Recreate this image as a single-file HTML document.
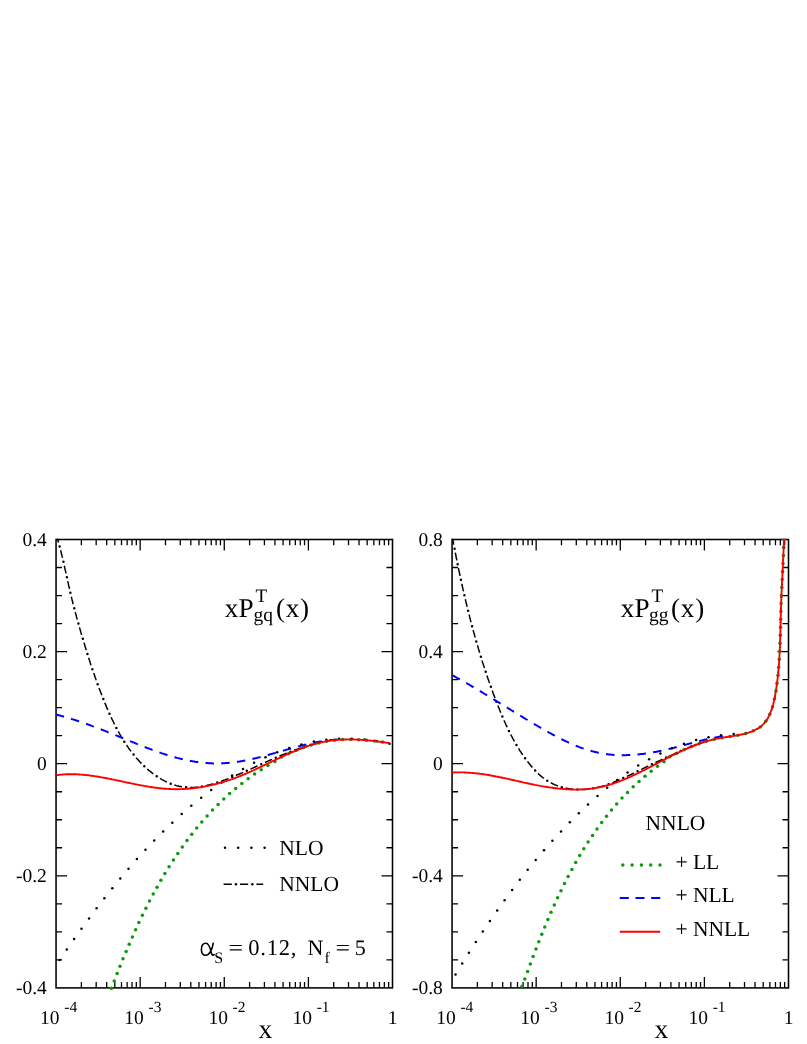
<!DOCTYPE html>
<html><head><meta charset="utf-8"><title>plot</title>
<style>html,body{margin:0;padding:0;background:#fff}svg{display:block;will-change:transform}text{text-rendering:geometricPrecision;font-family:"Liberation Serif",serif;fill:#000}</style></head><body>
<svg width="807" height="1044" viewBox="0 0 807 1044">
<rect width="807" height="1044" fill="#fff"/>
<clipPath id="cL"><rect x="55.25" y="538.7" width="338.05" height="451.4"/></clipPath>
<path d="M81.37,987.9v-5.8M81.37,539.5v5.8M96.18,987.9v-5.8M96.18,539.5v5.8M106.69,987.9v-5.8M106.69,539.5v5.8M114.84,987.9v-5.8M114.84,539.5v5.8M121.50,987.9v-5.8M121.50,539.5v5.8M127.13,987.9v-5.8M127.13,539.5v5.8M132.01,987.9v-5.8M132.01,539.5v5.8M136.31,987.9v-5.8M136.31,539.5v5.8M140.16,987.9v-11M140.16,539.5v11M165.48,987.9v-5.8M165.48,539.5v5.8M180.29,987.9v-5.8M180.29,539.5v5.8M190.80,987.9v-5.8M190.80,539.5v5.8M198.95,987.9v-5.8M198.95,539.5v5.8M205.61,987.9v-5.8M205.61,539.5v5.8M211.25,987.9v-5.8M211.25,539.5v5.8M216.12,987.9v-5.8M216.12,539.5v5.8M220.43,987.9v-5.8M220.43,539.5v5.8M224.27,987.9v-11M224.27,539.5v11M249.60,987.9v-5.8M249.60,539.5v5.8M264.41,987.9v-5.8M264.41,539.5v5.8M274.92,987.9v-5.8M274.92,539.5v5.8M283.07,987.9v-5.8M283.07,539.5v5.8M289.73,987.9v-5.8M289.73,539.5v5.8M295.36,987.9v-5.8M295.36,539.5v5.8M300.24,987.9v-5.8M300.24,539.5v5.8M304.54,987.9v-5.8M304.54,539.5v5.8M308.39,987.9v-11M308.39,539.5v11M333.71,987.9v-5.8M333.71,539.5v5.8M348.52,987.9v-5.8M348.52,539.5v5.8M359.03,987.9v-5.8M359.03,539.5v5.8M367.18,987.9v-5.8M367.18,539.5v5.8M373.84,987.9v-5.8M373.84,539.5v5.8M379.47,987.9v-5.8M379.47,539.5v5.8M384.35,987.9v-5.8M384.35,539.5v5.8M388.65,987.9v-5.8M388.65,539.5v5.8M56.05,959.88h6M392.5,959.88h-6M56.05,931.85h6M392.5,931.85h-6M56.05,903.82h6M392.5,903.82h-6M56.05,875.80h11M392.5,875.80h-11M56.05,847.77h6M392.5,847.77h-6M56.05,819.75h6M392.5,819.75h-6M56.05,791.73h6M392.5,791.73h-6M56.05,763.70h11M392.5,763.70h-11M56.05,735.67h6M392.5,735.67h-6M56.05,707.65h6M392.5,707.65h-6M56.05,679.62h6M392.5,679.62h-6M56.05,651.60h11M392.5,651.60h-11M56.05,623.58h6M392.5,623.58h-6M56.05,595.55h6M392.5,595.55h-6M56.05,567.52h6M392.5,567.52h-6" stroke="#000" stroke-width="1.3" fill="none"/>
<rect x="56.05" y="539.5" width="336.45" height="448.4" fill="none" stroke="#000" stroke-width="1.55"/>
<g clip-path="url(#cL)">
<circle cx="111.4" cy="988.3" r="1.75" fill="#0a9a0a"/><circle cx="114.2" cy="980.9" r="1.75" fill="#0a9a0a"/><circle cx="117.1" cy="973.5" r="1.75" fill="#0a9a0a"/><circle cx="120.0" cy="966.2" r="1.75" fill="#0a9a0a"/><circle cx="123.0" cy="958.8" r="1.75" fill="#0a9a0a"/><circle cx="126.1" cy="951.5" r="1.75" fill="#0a9a0a"/><circle cx="129.2" cy="944.2" r="1.75" fill="#0a9a0a"/><circle cx="132.4" cy="936.9" r="1.75" fill="#0a9a0a"/><circle cx="135.6" cy="929.7" r="1.75" fill="#0a9a0a"/><circle cx="138.9" cy="922.5" r="1.75" fill="#0a9a0a"/><circle cx="142.4" cy="915.3" r="1.75" fill="#0a9a0a"/><circle cx="145.9" cy="908.2" r="1.75" fill="#0a9a0a"/><circle cx="149.5" cy="901.1" r="1.75" fill="#0a9a0a"/><circle cx="153.2" cy="894.1" r="1.75" fill="#0a9a0a"/><circle cx="157.0" cy="887.2" r="1.75" fill="#0a9a0a"/><circle cx="160.9" cy="880.3" r="1.75" fill="#0a9a0a"/><circle cx="164.9" cy="873.4" r="1.75" fill="#0a9a0a"/><circle cx="169.1" cy="866.7" r="1.75" fill="#0a9a0a"/><circle cx="173.4" cy="860.0" r="1.75" fill="#0a9a0a"/><circle cx="177.8" cy="853.4" r="1.75" fill="#0a9a0a"/><circle cx="182.3" cy="846.9" r="1.75" fill="#0a9a0a"/><circle cx="187.0" cy="840.5" r="1.75" fill="#0a9a0a"/><circle cx="191.8" cy="834.2" r="1.75" fill="#0a9a0a"/><circle cx="196.7" cy="828.0" r="1.75" fill="#0a9a0a"/><circle cx="201.8" cy="821.9" r="1.75" fill="#0a9a0a"/><circle cx="207.1" cy="815.9" r="1.75" fill="#0a9a0a"/><circle cx="212.5" cy="810.1" r="1.75" fill="#0a9a0a"/><circle cx="218.1" cy="804.5" r="1.75" fill="#0a9a0a"/><circle cx="223.8" cy="799.0" r="1.75" fill="#0a9a0a"/><circle cx="229.6" cy="793.6" r="1.75" fill="#0a9a0a"/><circle cx="235.7" cy="788.5" r="1.75" fill="#0a9a0a"/><circle cx="241.8" cy="783.5" r="1.75" fill="#0a9a0a"/><circle cx="248.2" cy="778.7" r="1.75" fill="#0a9a0a"/><circle cx="254.6" cy="774.1" r="1.75" fill="#0a9a0a"/><circle cx="261.2" cy="769.7" r="1.75" fill="#0a9a0a"/><circle cx="268.0" cy="765.5" r="1.75" fill="#0a9a0a"/><circle cx="274.9" cy="761.6" r="1.75" fill="#0a9a0a"/><circle cx="281.5" cy="757.0" r="1.75" fill="#0a9a0a"/><circle cx="288.8" cy="753.6" r="1.75" fill="#0a9a0a"/><circle cx="296.1" cy="750.5" r="1.75" fill="#0a9a0a"/><circle cx="303.6" cy="747.6" r="1.75" fill="#0a9a0a"/><circle cx="311.2" cy="745.1" r="1.75" fill="#0a9a0a"/><circle cx="318.9" cy="742.9" r="1.75" fill="#0a9a0a"/><circle cx="326.7" cy="741.3" r="1.75" fill="#0a9a0a"/><circle cx="334.6" cy="740.2" r="1.75" fill="#0a9a0a"/><circle cx="342.6" cy="739.6" r="1.75" fill="#0a9a0a"/><circle cx="350.6" cy="739.4" r="1.75" fill="#0a9a0a"/><circle cx="358.6" cy="739.7" r="1.75" fill="#0a9a0a"/><circle cx="366.6" cy="740.3" r="1.75" fill="#0a9a0a"/><circle cx="374.5" cy="741.1" r="1.75" fill="#0a9a0a"/><circle cx="382.5" cy="742.1" r="1.75" fill="#0a9a0a"/>
<path d="M56.7,535.7 L57.0,536.8 L57.3,537.9 L57.6,539.0 L57.9,540.1 L58.2,541.2 L58.5,542.3 L58.8,543.4 L59.1,544.5 L59.4,545.5 L59.7,546.6 L60.0,547.7 L60.2,548.8 L60.5,549.9 L60.8,551.0 L61.1,552.1 L61.3,553.1 L61.6,554.2 L61.9,555.3 L62.1,556.4 L62.4,557.4 L62.6,558.5 L62.9,559.6 L63.1,560.7 L63.4,561.7 L63.6,562.8 L63.9,563.9 L64.1,565.0 L64.4,566.0 L64.6,567.1 L64.8,568.2 L65.1,569.2 L65.3,570.3 L65.6,571.4 L65.8,572.4 L66.0,573.5 L66.3,574.6 L66.5,575.6 L66.7,576.7 L67.0,577.8 L67.2,578.8 L67.4,579.9 L67.7,580.9 L67.9,582.0 L68.2,583.1 L68.4,584.1 L68.6,585.2 L68.9,586.2 L69.1,587.3 L69.4,588.4 L69.6,589.4 L69.8,590.5 L70.1,591.5 L70.3,592.6 L70.6,593.7 L70.8,594.7 L71.1,595.8 L71.4,596.8 L71.6,597.9 L71.9,598.9 L72.1,600.0 L72.4,601.0 L72.7,602.1 L72.9,603.2 L73.2,604.2 L73.5,605.3 L73.7,606.3 L74.0,607.4 L74.3,608.4 L74.6,609.5 L74.8,610.5 L75.1,611.6 L75.4,612.6 L75.7,613.7 L76.0,614.7 L76.3,615.8 L76.5,616.9 L76.8,617.9 L77.1,619.0 L77.4,620.0 L77.7,621.1 L78.0,622.1 L78.3,623.2 L78.6,624.2 L78.9,625.3 L79.2,626.4 L79.5,627.4 L79.8,628.5 L80.1,629.5 L80.4,630.6 L80.7,631.6 L81.0,632.7 L81.3,633.7 L81.6,634.8 L81.9,635.9 L82.3,636.9 L82.6,638.0 L82.9,639.0 L83.2,640.1 L83.5,641.2 L83.8,642.2 L84.2,643.3 L84.5,644.3 L84.8,645.4 L85.1,646.5 L85.5,647.5 L85.8,648.6 L86.1,649.7 L86.4,650.7 L86.8,651.8 L87.1,652.8 L87.4,653.9 L87.8,655.0 L88.1,656.0 L88.4,657.1 L88.8,658.2 L89.1,659.2 L89.5,660.3 L89.8,661.3 L90.2,662.4 L90.5,663.5 L90.8,664.5 L91.2,665.6 L91.5,666.6 L91.9,667.7 L92.3,668.7 L92.6,669.8 L93.0,670.9 L93.3,671.9 L93.7,673.0 L94.1,674.0 L94.4,675.1 L94.8,676.1 L95.1,677.2 L95.5,678.2 L95.9,679.3 L96.3,680.3 L96.6,681.4 L97.0,682.4 L97.4,683.5 L97.8,684.5 L98.2,685.6 L98.5,686.6 L98.9,687.6 L99.3,688.7 L99.7,689.7 L100.1,690.7 L100.5,691.8 L100.9,692.8 L101.3,693.8 L101.7,694.9 L102.1,695.9 L102.5,696.9 L102.9,698.0 L103.3,699.0 L103.7,700.0 L104.1,701.0 L104.5,702.0 L104.9,703.1 L105.4,704.1 L105.8,705.1 L106.2,706.1 L106.6,707.1 L107.1,708.1 L107.5,709.1 L107.9,710.1 L108.4,711.1 L108.8,712.1 L109.2,713.1 L109.7,714.1 L110.1,715.1 L110.6,716.1 L111.0,717.1 L111.5,718.1 L112.0,719.1 L112.4,720.0 L112.9,721.0 L113.4,722.0 L113.9,723.0 L114.3,723.9 L114.8,724.9 L115.3,725.9 L115.8,726.8 L116.3,727.8 L116.8,728.7 L117.3,729.7 L117.8,730.6 L118.4,731.6 L118.9,732.5 L119.4,733.5 L119.9,734.4 L120.5,735.4 L121.0,736.3 L121.6,737.2 L122.1,738.1 L122.7,739.1 L123.3,740.0 L123.8,740.9 L124.4,741.8 L125.0,742.7 L125.6,743.6 L126.2,744.5 L126.8,745.4 L127.4,746.3 L128.0,747.2 L128.6,748.1 L129.3,749.0 L129.9,749.9 L130.6,750.8 L131.2,751.6 L131.9,752.5 L132.6,753.4 L133.3,754.2 L134.0,755.1 L134.7,755.9 L135.4,756.8 L136.1,757.6 L136.8,758.5 L137.6,759.3 L138.3,760.1 L139.1,761.0 L139.8,761.8 L140.6,762.6 L141.4,763.4 L142.2,764.2 L143.0,765.0 L143.8,765.8 L144.6,766.6 L145.5,767.3 L146.3,768.1 L147.1,768.8 L148.0,769.6 L148.8,770.3 L149.7,771.0 L150.6,771.7 L151.5,772.4 L152.3,773.1 L153.2,773.8 L154.1,774.4 L155.0,775.1 L156.0,775.7 L156.9,776.3 L157.8,777.0 L158.7,777.6 L159.7,778.1 L160.6,778.7 L161.6,779.3 L162.5,779.8 L163.5,780.3 L164.4,780.8 L165.4,781.3 L166.4,781.8 L167.4,782.3 L168.4,782.7 L169.4,783.1 L170.4,783.5 L171.4,783.9 L172.4,784.3 L173.4,784.6 L174.4,785.0 L175.4,785.3 L176.4,785.6 L177.5,785.9 L178.5,786.1 L179.5,786.4 L180.6,786.6 L181.6,786.8 L182.7,786.9 L183.7,787.1 L184.8,787.2 L185.8,787.3 L186.9,787.4 L188.0,787.4 L189.0,787.5 L190.1,787.5 L191.2,787.5 L192.3,787.5 L193.3,787.4 L194.4,787.4 L195.5,787.3 L196.6,787.2 L197.6,787.1 L198.7,786.9 L199.8,786.8 L200.9,786.6 L202.0,786.4 L203.1,786.3 L204.2,786.0 L205.3,785.8 L206.4,785.6 L207.4,785.3 L208.5,785.1 L209.6,784.8 L210.7,784.5 L211.8,784.2 L212.9,783.9 L214.0,783.6 L215.1,783.2 L216.1,782.9 L217.2,782.6 L218.3,782.2 L219.4,781.8 L220.5,781.5 L221.5,781.1 L222.6,780.7 L223.7,780.3 L224.8,779.9 L225.8,779.5 L226.9,779.1 L228.0,778.7 L229.0,778.3 L230.1,777.8 L231.1,777.4 L232.2,777.0 L233.2,776.6 L234.3,776.1 L235.3,775.7 L236.3,775.3 L237.4,774.8 L238.4,774.4 L239.4,774.0 L240.5,773.5 L241.5,773.1 L242.5,772.6 L243.5,772.2 L244.5,771.7 L245.5,771.3 L246.5,770.8 L247.6,770.4 L248.6,769.9 L249.6,769.5 L250.6,769.0 L251.6,768.6 L252.6,768.1 L253.6,767.7 L254.6,767.2 L255.6,766.8 L256.5,766.3 L257.5,765.9 L258.5,765.4 L259.5,765.0 L260.5,764.5 L261.5,764.1 L262.5,763.6 L263.5,763.2 L264.5,762.7 L265.5,762.3 L266.4,761.8 L267.4,761.4 L268.4,760.9 L269.4,760.5 L270.4,760.0 L271.4,759.6 L272.4,759.2 L273.4,758.7 L274.3,758.3 L275.3,757.9 L276.3,757.4 L277.3,757.0 L278.3,756.6 L279.3,756.2 L280.3,755.7 L281.3,755.3 L282.3,754.9 L283.3,754.5 L284.3,754.1 L285.3,753.7 L286.3,753.3 L287.3,752.9 L288.3,752.5 L289.3,752.1 L290.4,751.7 L291.4,751.3 L292.4,750.9 L293.4,750.6 L294.4,750.2 L295.5,749.8 L296.5,749.4 L297.5,749.1 L298.6,748.7 L299.6,748.4 L300.7,748.0 L301.7,747.7 L302.8,747.3 L303.8,747.0 L304.9,746.7 L305.9,746.3 L307.0,746.0 L308.1,745.7 L309.1,745.4 L310.2,745.1 L311.3,744.8 L312.4,744.5 L313.5,744.2 L314.6,743.9 L315.7,743.7 L316.8,743.4 L317.9,743.1 L319.0,742.9 L320.1,742.6" fill="none" stroke="#000" stroke-width="1.5" stroke-dasharray="7.8 8.1" stroke-dashoffset="0.8"/>
<path d="M56.7,535.7 L57.0,536.8 L57.3,537.9 L57.6,539.0 L57.9,540.1 L58.2,541.2 L58.5,542.3 L58.8,543.4 L59.1,544.5 L59.4,545.5 L59.7,546.6 L60.0,547.7 L60.2,548.8 L60.5,549.9 L60.8,551.0 L61.1,552.1 L61.3,553.1 L61.6,554.2 L61.9,555.3 L62.1,556.4 L62.4,557.4 L62.6,558.5 L62.9,559.6 L63.1,560.7 L63.4,561.7 L63.6,562.8 L63.9,563.9 L64.1,565.0 L64.4,566.0 L64.6,567.1 L64.8,568.2 L65.1,569.2 L65.3,570.3 L65.6,571.4 L65.8,572.4 L66.0,573.5 L66.3,574.6 L66.5,575.6 L66.7,576.7 L67.0,577.8 L67.2,578.8 L67.4,579.9 L67.7,580.9 L67.9,582.0 L68.2,583.1 L68.4,584.1 L68.6,585.2 L68.9,586.2 L69.1,587.3 L69.4,588.4 L69.6,589.4 L69.8,590.5 L70.1,591.5 L70.3,592.6 L70.6,593.7 L70.8,594.7 L71.1,595.8 L71.4,596.8 L71.6,597.9 L71.9,598.9 L72.1,600.0 L72.4,601.0 L72.7,602.1 L72.9,603.2 L73.2,604.2 L73.5,605.3 L73.7,606.3 L74.0,607.4 L74.3,608.4 L74.6,609.5 L74.8,610.5 L75.1,611.6 L75.4,612.6 L75.7,613.7 L76.0,614.7 L76.3,615.8 L76.5,616.9 L76.8,617.9 L77.1,619.0 L77.4,620.0 L77.7,621.1 L78.0,622.1 L78.3,623.2 L78.6,624.2 L78.9,625.3 L79.2,626.4 L79.5,627.4 L79.8,628.5 L80.1,629.5 L80.4,630.6 L80.7,631.6 L81.0,632.7 L81.3,633.7 L81.6,634.8 L81.9,635.9 L82.3,636.9 L82.6,638.0 L82.9,639.0 L83.2,640.1 L83.5,641.2 L83.8,642.2 L84.2,643.3 L84.5,644.3 L84.8,645.4 L85.1,646.5 L85.5,647.5 L85.8,648.6 L86.1,649.7 L86.4,650.7 L86.8,651.8 L87.1,652.8 L87.4,653.9 L87.8,655.0 L88.1,656.0 L88.4,657.1 L88.8,658.2 L89.1,659.2 L89.5,660.3 L89.8,661.3 L90.2,662.4 L90.5,663.5 L90.8,664.5 L91.2,665.6 L91.5,666.6 L91.9,667.7 L92.3,668.7 L92.6,669.8 L93.0,670.9 L93.3,671.9 L93.7,673.0 L94.1,674.0 L94.4,675.1 L94.8,676.1 L95.1,677.2 L95.5,678.2 L95.9,679.3 L96.3,680.3 L96.6,681.4 L97.0,682.4 L97.4,683.5 L97.8,684.5 L98.2,685.6 L98.5,686.6 L98.9,687.6 L99.3,688.7 L99.7,689.7 L100.1,690.7 L100.5,691.8 L100.9,692.8 L101.3,693.8 L101.7,694.9 L102.1,695.9 L102.5,696.9 L102.9,698.0 L103.3,699.0 L103.7,700.0 L104.1,701.0 L104.5,702.0 L104.9,703.1 L105.4,704.1 L105.8,705.1 L106.2,706.1 L106.6,707.1 L107.1,708.1 L107.5,709.1 L107.9,710.1 L108.4,711.1 L108.8,712.1 L109.2,713.1 L109.7,714.1 L110.1,715.1 L110.6,716.1 L111.0,717.1 L111.5,718.1 L112.0,719.1 L112.4,720.0 L112.9,721.0 L113.4,722.0 L113.9,723.0 L114.3,723.9 L114.8,724.9 L115.3,725.9 L115.8,726.8 L116.3,727.8 L116.8,728.7 L117.3,729.7 L117.8,730.6 L118.4,731.6 L118.9,732.5 L119.4,733.5 L119.9,734.4 L120.5,735.4 L121.0,736.3 L121.6,737.2 L122.1,738.1 L122.7,739.1 L123.3,740.0 L123.8,740.9 L124.4,741.8 L125.0,742.7 L125.6,743.6 L126.2,744.5 L126.8,745.4 L127.4,746.3 L128.0,747.2 L128.6,748.1 L129.3,749.0 L129.9,749.9 L130.6,750.8 L131.2,751.6 L131.9,752.5 L132.6,753.4 L133.3,754.2 L134.0,755.1 L134.7,755.9 L135.4,756.8 L136.1,757.6 L136.8,758.5 L137.6,759.3 L138.3,760.1 L139.1,761.0 L139.8,761.8 L140.6,762.6 L141.4,763.4 L142.2,764.2 L143.0,765.0 L143.8,765.8 L144.6,766.6 L145.5,767.3 L146.3,768.1 L147.1,768.8 L148.0,769.6 L148.8,770.3 L149.7,771.0 L150.6,771.7 L151.5,772.4 L152.3,773.1 L153.2,773.8 L154.1,774.4 L155.0,775.1 L156.0,775.7 L156.9,776.3 L157.8,777.0 L158.7,777.6 L159.7,778.1 L160.6,778.7 L161.6,779.3 L162.5,779.8 L163.5,780.3 L164.4,780.8 L165.4,781.3 L166.4,781.8 L167.4,782.3 L168.4,782.7 L169.4,783.1 L170.4,783.5 L171.4,783.9 L172.4,784.3 L173.4,784.6 L174.4,785.0 L175.4,785.3 L176.4,785.6 L177.5,785.9 L178.5,786.1 L179.5,786.4 L180.6,786.6 L181.6,786.8 L182.7,786.9 L183.7,787.1 L184.8,787.2 L185.8,787.3 L186.9,787.4 L188.0,787.4 L189.0,787.5 L190.1,787.5 L191.2,787.5 L192.3,787.5 L193.3,787.4 L194.4,787.4 L195.5,787.3 L196.6,787.2 L197.6,787.1 L198.7,786.9 L199.8,786.8 L200.9,786.6 L202.0,786.4 L203.1,786.3 L204.2,786.0 L205.3,785.8 L206.4,785.6 L207.4,785.3 L208.5,785.1 L209.6,784.8 L210.7,784.5 L211.8,784.2 L212.9,783.9 L214.0,783.6 L215.1,783.2 L216.1,782.9 L217.2,782.6 L218.3,782.2 L219.4,781.8 L220.5,781.5 L221.5,781.1 L222.6,780.7 L223.7,780.3 L224.8,779.9 L225.8,779.5 L226.9,779.1 L228.0,778.7 L229.0,778.3 L230.1,777.8 L231.1,777.4 L232.2,777.0 L233.2,776.6 L234.3,776.1 L235.3,775.7 L236.3,775.3 L237.4,774.8 L238.4,774.4 L239.4,774.0 L240.5,773.5 L241.5,773.1 L242.5,772.6 L243.5,772.2 L244.5,771.7 L245.5,771.3 L246.5,770.8 L247.6,770.4 L248.6,769.9 L249.6,769.5 L250.6,769.0 L251.6,768.6 L252.6,768.1 L253.6,767.7 L254.6,767.2 L255.6,766.8 L256.5,766.3 L257.5,765.9 L258.5,765.4 L259.5,765.0 L260.5,764.5 L261.5,764.1 L262.5,763.6 L263.5,763.2 L264.5,762.7 L265.5,762.3 L266.4,761.8 L267.4,761.4 L268.4,760.9 L269.4,760.5 L270.4,760.0 L271.4,759.6 L272.4,759.2 L273.4,758.7 L274.3,758.3 L275.3,757.9 L276.3,757.4 L277.3,757.0 L278.3,756.6 L279.3,756.2 L280.3,755.7 L281.3,755.3 L282.3,754.9 L283.3,754.5 L284.3,754.1 L285.3,753.7 L286.3,753.3 L287.3,752.9 L288.3,752.5 L289.3,752.1 L290.4,751.7 L291.4,751.3 L292.4,750.9 L293.4,750.6 L294.4,750.2 L295.5,749.8 L296.5,749.4 L297.5,749.1 L298.6,748.7 L299.6,748.4 L300.7,748.0 L301.7,747.7 L302.8,747.3 L303.8,747.0 L304.9,746.7 L305.9,746.3 L307.0,746.0 L308.1,745.7 L309.1,745.4 L310.2,745.1 L311.3,744.8 L312.4,744.5 L313.5,744.2 L314.6,743.9 L315.7,743.7 L316.8,743.4 L317.9,743.1 L319.0,742.9 L320.1,742.6" fill="none" stroke="#000" stroke-width="2.5" stroke-linecap="round" stroke-dasharray="0 15.9" stroke-dashoffset="-11.1"/>
<path d="M56.4,714.6 L57.1,714.8 L57.8,715.0 L58.4,715.2 L59.1,715.3 L59.8,715.5 L60.5,715.7 L61.2,715.9 L61.9,716.1 L62.6,716.3 L63.3,716.5 L64.0,716.7 L64.7,716.9 L65.4,717.1 L66.1,717.3 L66.8,717.5 L67.5,717.7 L68.2,717.9 L68.9,718.1 L69.6,718.3 L70.2,718.5 L70.9,718.7 L71.6,719.0 L72.3,719.2 L73.0,719.4 L73.7,719.6 L74.4,719.8 L75.1,720.1 L75.8,720.3 L76.5,720.5 L77.2,720.7 L77.9,721.0 L78.6,721.2 L79.3,721.4 L80.0,721.7 L80.6,721.9 L81.3,722.1 L82.0,722.4 L82.7,722.6 L83.4,722.9 L84.1,723.1 L84.8,723.4 L85.5,723.6 L86.2,723.8 L86.9,724.1 L87.6,724.3 L88.3,724.6 L89.0,724.8 L89.6,725.1 L90.3,725.3 L91.0,725.6 L91.7,725.9 L92.4,726.1 L93.1,726.4 L93.8,726.6 L94.5,726.9 L95.2,727.1 L95.9,727.4 L96.6,727.7 L97.3,727.9 L98.0,728.2 L98.6,728.5 L99.3,728.7 L100.0,729.0 L100.7,729.3 L101.4,729.5 L102.1,729.8 L102.8,730.1 L103.5,730.3 L104.2,730.6 L104.9,730.9 L105.6,731.2 L106.3,731.4 L107.0,731.7 L107.6,732.0 L108.3,732.3 L109.0,732.5 L109.7,732.8 L110.4,733.1 L111.1,733.4 L111.8,733.6 L112.5,733.9 L113.2,734.2 L113.9,734.5 L114.6,734.8 L115.3,735.0 L116.0,735.3 L116.7,735.6 L117.4,735.9 L118.1,736.2 L118.7,736.5 L119.4,736.7 L120.1,737.0 L120.8,737.3 L121.5,737.6 L122.2,737.9 L122.9,738.2 L123.6,738.5 L124.3,738.7 L125.0,739.0 L125.7,739.3 L126.4,739.6 L127.1,739.9 L127.8,740.2 L128.5,740.5 L129.2,740.7 L129.9,741.0 L130.6,741.3 L131.3,741.6 L132.0,741.9 L132.7,742.2 L133.4,742.4 L134.1,742.7 L134.8,743.0 L135.5,743.3 L136.2,743.6 L136.9,743.9 L137.5,744.1 L138.2,744.4 L138.9,744.7 L139.6,745.0 L140.3,745.3 L141.0,745.5 L141.7,745.8 L142.4,746.1 L143.1,746.4 L143.8,746.7 L144.5,746.9 L145.2,747.2 L145.9,747.5 L146.6,747.7 L147.3,748.0 L148.1,748.3 L148.8,748.6 L149.5,748.8 L150.2,749.1 L150.9,749.3 L151.6,749.6 L152.3,749.9 L153.0,750.1 L153.7,750.4 L154.4,750.6 L155.1,750.9 L155.8,751.2 L156.5,751.4 L157.2,751.7 L157.9,751.9 L158.6,752.2 L159.3,752.4 L160.0,752.6 L160.7,752.9 L161.4,753.1 L162.1,753.4 L162.8,753.6 L163.5,753.8 L164.3,754.1 L165.0,754.3 L165.7,754.5 L166.4,754.8 L167.1,755.0 L167.8,755.2 L168.5,755.4 L169.2,755.6 L169.9,755.9 L170.6,756.1 L171.3,756.3 L172.1,756.5 L172.8,756.7 L173.5,756.9 L174.2,757.1 L174.9,757.3 L175.6,757.5 L176.3,757.7 L177.0,757.9 L177.8,758.1 L178.5,758.2 L179.2,758.4 L179.9,758.6 L180.6,758.8 L181.3,759.0 L182.0,759.1 L182.8,759.3 L183.5,759.5 L184.2,759.6 L184.9,759.8 L185.6,759.9 L186.3,760.1 L187.1,760.2 L187.8,760.4 L188.5,760.5 L189.2,760.7 L189.9,760.8 L190.6,760.9 L191.4,761.1 L192.1,761.2 L192.8,761.3 L193.5,761.4 L194.2,761.6 L195.0,761.7 L195.7,761.8 L196.4,761.9 L197.1,762.0 L197.8,762.1 L198.6,762.2 L199.3,762.3 L200.0,762.4 L200.7,762.5 L201.5,762.6 L202.2,762.6 L202.9,762.7 L203.6,762.8 L204.3,762.8 L205.1,762.9 L205.8,763.0 L206.5,763.0 L207.2,763.1 L208.0,763.1 L208.7,763.2 L209.4,763.2 L210.1,763.3 L210.8,763.3 L211.6,763.3 L212.3,763.4 L213.0,763.4 L213.7,763.4 L214.5,763.4 L215.2,763.4 L215.9,763.4 L216.6,763.4 L217.4,763.4 L218.1,763.4 L218.8,763.4 L219.5,763.4 L220.3,763.4 L221.0,763.3 L221.7,763.3 L222.4,763.3 L223.2,763.3 L223.9,763.2 L224.6,763.2 L225.3,763.1 L226.1,763.1 L226.8,763.0 L227.5,763.0 L228.2,762.9 L229.0,762.8 L229.7,762.8 L230.4,762.7 L231.2,762.6 L231.9,762.6 L232.6,762.5 L233.3,762.4 L234.1,762.3 L234.8,762.2 L235.5,762.1 L236.2,762.0 L237.0,761.9 L237.7,761.8 L238.4,761.7 L239.1,761.6 L239.9,761.4 L240.6,761.3 L241.3,761.2 L242.0,761.1 L242.8,760.9 L243.5,760.8 L244.2,760.7 L245.0,760.5 L245.7,760.4 L246.4,760.3 L247.1,760.1 L247.9,760.0 L248.6,759.8 L249.3,759.6 L250.0,759.5 L250.8,759.3 L251.5,759.2 L252.2,759.0 L252.9,758.8 L253.7,758.7 L254.4,758.5 L255.1,758.3 L255.8,758.2 L256.6,758.0 L257.3,757.8 L258.0,757.6 L258.7,757.4 L259.5,757.3 L260.2,757.1 L260.9,756.9 L261.6,756.7 L262.4,756.5 L263.1,756.3 L263.8,756.1 L264.5,755.9 L265.3,755.7 L266.0,755.5 L266.7,755.3 L267.4,755.1 L268.2,755.0 L268.9,754.8 L269.6,754.5 L270.3,754.3 L271.1,754.1 L271.8,753.9 L272.5,753.7 L273.2,753.5 L274.0,753.3 L274.7,753.1 L275.4,752.9 L276.1,752.7 L276.9,752.5 L277.6,752.3 L278.3,752.1 L279.0,751.9 L279.8,751.7 L280.5,751.5 L281.2,751.3 L281.9,751.0 L282.7,750.8 L283.4,750.6 L284.1,750.4 L284.8,750.2 L285.6,750.0 L286.3,749.8 L287.0,749.6 L287.7,749.4 L288.4,749.2 L289.2,749.0 L289.9,748.8 L290.6,748.6 L291.3,748.4 L292.1,748.2 L292.8,748.0 L293.5,747.8 L294.2,747.6 L294.9,747.4 L295.7,747.2 L296.4,747.0 L297.1,746.8 L297.8,746.6 L298.6,746.4 L299.3,746.2 L300.0,746.0 L300.7,745.8 L301.4,745.6 L302.2,745.5 L302.9,745.3 L303.6,745.1 L304.3,744.9 L305.0,744.7 L305.8,744.6 L306.5,744.4 L307.2,744.2 L307.9,744.1 L308.6,743.9 L309.4,743.7 L310.1,743.6 L310.8,743.4 L311.5,743.2 L312.2,743.1 L313.0,742.9 L313.7,742.8 L314.4,742.6 L315.1,742.5 L315.8,742.3 L316.5,742.2 L317.3,742.1 L318.0,741.9 L318.7,741.8 L319.4,741.7 L320.1,741.5 L320.9,741.4 L321.6,741.3 L322.3,741.2 L323.0,741.1 L323.7,741.0 L324.4,740.9 L325.2,740.8 L325.9,740.7 L326.6,740.6 L327.3,740.5 L328.0,740.4 L328.7,740.3 L329.5,740.2 L330.2,740.1 L330.9,740.1 L331.6,740.0 L332.3,739.9 L333.0,739.9 L333.8,739.8 L334.5,739.7 L335.2,739.7 L335.9,739.6 L336.6,739.6 L337.3,739.6 L338.0,739.5 L338.8,739.5 L339.5,739.5 L340.2,739.5" fill="none" stroke="#0000ff" stroke-width="2" stroke-dasharray="8.5 7.3" stroke-dashoffset="0.6"/>
<circle cx="59.6" cy="960.0" r="1.25" fill="#000"/><circle cx="66.8" cy="949.5" r="1.25" fill="#000"/><circle cx="74.1" cy="939.1" r="1.25" fill="#000"/><circle cx="81.5" cy="928.7" r="1.25" fill="#000"/><circle cx="89.0" cy="918.5" r="1.25" fill="#000"/><circle cx="96.6" cy="908.3" r="1.25" fill="#000"/><circle cx="104.4" cy="898.2" r="1.25" fill="#000"/><circle cx="112.3" cy="888.2" r="1.25" fill="#000"/><circle cx="120.3" cy="878.4" r="1.25" fill="#000"/><circle cx="128.5" cy="868.7" r="1.25" fill="#000"/><circle cx="136.9" cy="859.1" r="1.25" fill="#000"/><circle cx="145.5" cy="849.7" r="1.25" fill="#000"/><circle cx="154.2" cy="840.5" r="1.25" fill="#000"/><circle cx="163.2" cy="831.5" r="1.25" fill="#000"/><circle cx="172.3" cy="822.7" r="1.25" fill="#000"/><circle cx="181.7" cy="814.1" r="1.25" fill="#000"/><circle cx="191.3" cy="805.8" r="1.25" fill="#000"/><circle cx="201.2" cy="797.7" r="1.25" fill="#000"/><circle cx="211.2" cy="790.0" r="1.25" fill="#000"/><circle cx="221.6" cy="782.6" r="1.25" fill="#000"/><circle cx="232.1" cy="775.5" r="1.25" fill="#000"/><circle cx="243.0" cy="768.9" r="1.25" fill="#000"/><circle cx="254.1" cy="762.8" r="1.25" fill="#000"/><circle cx="265.5" cy="757.2" r="1.25" fill="#000"/><circle cx="277.2" cy="752.2" r="1.25" fill="#000"/><circle cx="289.2" cy="747.9" r="1.25" fill="#000"/><circle cx="301.4" cy="744.4" r="1.25" fill="#000"/><circle cx="313.8" cy="741.6" r="1.25" fill="#000"/><circle cx="326.4" cy="739.8" r="1.25" fill="#000"/><circle cx="339.1" cy="738.8" r="1.25" fill="#000"/><circle cx="351.8" cy="738.7" r="1.25" fill="#000"/><circle cx="364.5" cy="739.5" r="1.25" fill="#000"/><circle cx="377.0" cy="741.2" r="1.25" fill="#000"/><circle cx="389.5" cy="743.8" r="1.25" fill="#000"/>
<path d="M56.4,775.2 L57.3,775.1 L58.1,775.0 L58.9,774.9 L59.8,774.8 L60.6,774.7 L61.4,774.6 L62.3,774.5 L63.1,774.5 L63.9,774.4 L64.8,774.4 L65.6,774.3 L66.5,774.3 L67.3,774.3 L68.1,774.2 L69.0,774.2 L69.8,774.2 L70.7,774.2 L71.5,774.2 L72.4,774.2 L73.2,774.2 L74.0,774.2 L74.9,774.3 L75.7,774.3 L76.6,774.3 L77.4,774.4 L78.3,774.4 L79.1,774.5 L80.0,774.5 L80.8,774.6 L81.7,774.6 L82.5,774.7 L83.3,774.8 L84.2,774.9 L85.0,775.0 L85.9,775.0 L86.7,775.1 L87.6,775.2 L88.4,775.3 L89.3,775.4 L90.1,775.5 L91.0,775.7 L91.8,775.8 L92.7,775.9 L93.5,776.0 L94.4,776.1 L95.3,776.3 L96.1,776.4 L97.0,776.5 L97.8,776.7 L98.7,776.8 L99.5,777.0 L100.4,777.1 L101.2,777.3 L102.1,777.4 L102.9,777.6 L103.8,777.7 L104.6,777.9 L105.5,778.0 L106.4,778.2 L107.2,778.4 L108.1,778.5 L108.9,778.7 L109.8,778.9 L110.6,779.0 L111.5,779.2 L112.3,779.4 L113.2,779.6 L114.1,779.7 L114.9,779.9 L115.8,780.1 L116.6,780.3 L117.5,780.5 L118.3,780.6 L119.2,780.8 L120.1,781.0 L120.9,781.2 L121.8,781.4 L122.6,781.6 L123.5,781.7 L124.3,781.9 L125.2,782.1 L126.1,782.3 L126.9,782.5 L127.8,782.7 L128.6,782.8 L129.5,783.0 L130.3,783.2 L131.2,783.4 L132.1,783.6 L132.9,783.7 L133.8,783.9 L134.6,784.1 L135.5,784.3 L136.4,784.4 L137.2,784.6 L138.1,784.8 L138.9,784.9 L139.8,785.1 L140.6,785.3 L141.5,785.4 L142.4,785.6 L143.2,785.7 L144.1,785.9 L144.9,786.1 L145.8,786.2 L146.6,786.4 L147.5,786.5 L148.4,786.6 L149.2,786.8 L150.1,786.9 L150.9,787.0 L151.8,787.2 L152.6,787.3 L153.5,787.4 L154.3,787.5 L155.2,787.7 L156.1,787.8 L156.9,787.9 L157.8,788.0 L158.6,788.1 L159.5,788.2 L160.3,788.3 L161.2,788.4 L162.0,788.5 L162.9,788.5 L163.7,788.6 L164.6,788.7 L165.4,788.8 L166.3,788.8 L167.1,788.9 L168.0,788.9 L168.8,789.0 L169.7,789.0 L170.5,789.0 L171.4,789.1 L172.2,789.1 L173.1,789.1 L173.9,789.1 L174.8,789.2 L175.6,789.2 L176.5,789.2 L177.3,789.2 L178.2,789.2 L179.0,789.1 L179.9,789.1 L180.7,789.1 L181.6,789.1 L182.4,789.0 L183.3,789.0 L184.1,789.0 L185.0,788.9 L185.8,788.9 L186.6,788.8 L187.5,788.7 L188.3,788.7 L189.2,788.6 L190.0,788.5 L190.9,788.5 L191.7,788.4 L192.5,788.3 L193.4,788.2 L194.2,788.1 L195.1,788.0 L195.9,787.9 L196.7,787.8 L197.6,787.7 L198.4,787.5 L199.2,787.4 L200.1,787.3 L200.9,787.2 L201.7,787.0 L202.6,786.9 L203.4,786.7 L204.2,786.6 L205.1,786.4 L205.9,786.3 L206.7,786.1 L207.6,785.9 L208.4,785.8 L209.2,785.6 L210.1,785.4 L210.9,785.2 L211.7,785.0 L212.5,784.9 L213.4,784.7 L214.2,784.5 L215.0,784.3 L215.8,784.0 L216.7,783.8 L217.5,783.6 L218.3,783.4 L219.1,783.2 L220.0,782.9 L220.8,782.7 L221.6,782.5 L222.4,782.2 L223.2,782.0 L224.1,781.7 L224.9,781.5 L225.7,781.2 L226.5,781.0 L227.3,780.7 L228.1,780.4 L228.9,780.2 L229.8,779.9 L230.6,779.6 L231.4,779.3 L232.2,779.1 L233.0,778.8 L233.8,778.5 L234.6,778.2 L235.4,777.9 L236.2,777.6 L237.0,777.3 L237.8,777.0 L238.6,776.6 L239.4,776.3 L240.2,776.0 L241.0,775.7 L241.8,775.3 L242.6,775.0 L243.4,774.7 L244.2,774.3 L245.0,774.0 L245.8,773.7 L246.6,773.3 L247.4,773.0 L248.2,772.6 L249.0,772.3 L249.8,771.9 L250.6,771.6 L251.4,771.2 L252.2,770.9 L253.0,770.5 L253.8,770.1 L254.6,769.8 L255.4,769.4 L256.1,769.0 L256.9,768.7 L257.7,768.3 L258.5,767.9 L259.3,767.5 L260.1,767.2 L260.9,766.8 L261.7,766.4 L262.5,766.0 L263.2,765.7 L264.0,765.3 L264.8,764.9 L265.6,764.5 L266.4,764.2 L267.2,763.8 L268.0,763.4 L268.8,763.0 L269.5,762.6 L270.3,762.3 L271.1,761.9 L271.9,761.5 L272.7,761.1 L273.5,760.7 L274.3,760.4 L275.1,760.0 L275.8,759.6 L276.6,759.2 L277.4,758.9 L278.2,758.5 L279.0,758.1 L279.8,757.8 L280.6,757.4 L281.4,757.0 L282.1,756.7 L282.9,756.3 L283.7,755.9 L284.5,755.6 L285.3,755.2 L286.1,754.8 L286.9,754.5 L287.7,754.1 L288.5,753.8 L289.3,753.4 L290.0,753.1 L290.8,752.7 L291.6,752.4 L292.4,752.1 L293.2,751.7 L294.0,751.4 L294.8,751.1 L295.6,750.7 L296.4,750.4 L297.2,750.1 L298.0,749.8 L298.8,749.4 L299.6,749.1 L300.4,748.8 L301.2,748.5 L302.0,748.2 L302.8,747.9 L303.6,747.6 L304.4,747.3 L305.2,747.0 L306.0,746.8 L306.8,746.5 L307.6,746.2 L308.4,745.9 L309.2,745.7 L310.0,745.4 L310.8,745.2 L311.7,744.9 L312.5,744.7 L313.3,744.4 L314.1,744.2 L314.9,744.0 L315.7,743.7 L316.5,743.5 L317.4,743.3 L318.2,743.1 L319.0,742.9 L319.8,742.7 L320.6,742.5 L321.5,742.3 L322.3,742.1 L323.1,741.9 L323.9,741.8 L324.8,741.6 L325.6,741.5 L326.4,741.3 L327.2,741.2 L328.1,741.0 L328.9,740.9 L329.8,740.8 L330.6,740.6 L331.4,740.5 L332.3,740.4 L333.1,740.3 L333.9,740.2 L334.8,740.1 L335.6,740.1 L336.5,740.0 L337.3,739.9 L338.2,739.8 L339.0,739.8 L339.9,739.7 L340.7,739.7 L341.6,739.6 L342.4,739.6 L343.3,739.5 L344.1,739.5 L345.0,739.5 L345.8,739.5 L346.7,739.5 L347.5,739.4 L348.4,739.4 L349.3,739.4 L350.1,739.4 L351.0,739.5 L351.8,739.5 L352.7,739.5 L353.6,739.5 L354.4,739.5 L355.3,739.6 L356.2,739.6 L357.0,739.6 L357.9,739.7 L358.8,739.7 L359.6,739.8 L360.5,739.8 L361.4,739.9 L362.2,739.9 L363.1,740.0 L364.0,740.1 L364.8,740.1 L365.7,740.2 L366.6,740.3 L367.4,740.3 L368.3,740.4 L369.2,740.5 L370.0,740.6 L370.9,740.7 L371.8,740.8 L372.7,740.9 L373.5,741.0 L374.4,741.1 L375.3,741.2 L376.2,741.3 L377.0,741.4 L377.9,741.5 L378.8,741.6 L379.7,741.7 L380.5,741.8 L381.4,742.0 L382.3,742.1 L383.1,742.2 L384.0,742.3 L384.9,742.4 L385.8,742.6 L386.6,742.7 L387.5,742.8 L388.4,742.9 L389.3,743.1" fill="none" stroke="#ff0000" stroke-width="1.9"/>
</g>
<text x="46.85" y="994.4" font-size="19.5" text-anchor="end">-0.4</text>
<text x="46.85" y="882.3" font-size="19.5" text-anchor="end">-0.2</text>
<text x="46.85" y="770.2" font-size="19.5" text-anchor="end">0</text>
<text x="46.85" y="658.1" font-size="19.5" text-anchor="end">0.2</text>
<text x="46.85" y="546.0" font-size="19.5" text-anchor="end">0.4</text>
<text x="40.1" y="1024.4" font-size="19.5">10</text><text x="64.3" y="1011.7" font-size="15.5">-4</text>
<text x="124.3" y="1024.4" font-size="19.5">10</text><text x="148.5" y="1011.7" font-size="15.5">-3</text>
<text x="208.4" y="1024.4" font-size="19.5">10</text><text x="232.6" y="1011.7" font-size="15.5">-2</text>
<text x="292.5" y="1024.4" font-size="19.5">10</text><text x="316.7" y="1011.7" font-size="15.5">-1</text>
<text x="387.7" y="1024.4" font-size="19.5">1</text>
<clipPath id="cR"><rect x="451.25" y="538.7" width="338.05" height="451.4"/></clipPath>
<path d="M477.37,987.9v-5.8M477.37,539.5v5.8M492.18,987.9v-5.8M492.18,539.5v5.8M502.69,987.9v-5.8M502.69,539.5v5.8M510.84,987.9v-5.8M510.84,539.5v5.8M517.50,987.9v-5.8M517.50,539.5v5.8M523.13,987.9v-5.8M523.13,539.5v5.8M528.01,987.9v-5.8M528.01,539.5v5.8M532.31,987.9v-5.8M532.31,539.5v5.8M536.16,987.9v-11M536.16,539.5v11M561.48,987.9v-5.8M561.48,539.5v5.8M576.29,987.9v-5.8M576.29,539.5v5.8M586.80,987.9v-5.8M586.80,539.5v5.8M594.95,987.9v-5.8M594.95,539.5v5.8M601.61,987.9v-5.8M601.61,539.5v5.8M607.25,987.9v-5.8M607.25,539.5v5.8M612.12,987.9v-5.8M612.12,539.5v5.8M616.43,987.9v-5.8M616.43,539.5v5.8M620.27,987.9v-11M620.27,539.5v11M645.60,987.9v-5.8M645.60,539.5v5.8M660.41,987.9v-5.8M660.41,539.5v5.8M670.92,987.9v-5.8M670.92,539.5v5.8M679.07,987.9v-5.8M679.07,539.5v5.8M685.73,987.9v-5.8M685.73,539.5v5.8M691.36,987.9v-5.8M691.36,539.5v5.8M696.24,987.9v-5.8M696.24,539.5v5.8M700.54,987.9v-5.8M700.54,539.5v5.8M704.39,987.9v-11M704.39,539.5v11M729.71,987.9v-5.8M729.71,539.5v5.8M744.52,987.9v-5.8M744.52,539.5v5.8M755.03,987.9v-5.8M755.03,539.5v5.8M763.18,987.9v-5.8M763.18,539.5v5.8M769.84,987.9v-5.8M769.84,539.5v5.8M775.47,987.9v-5.8M775.47,539.5v5.8M780.35,987.9v-5.8M780.35,539.5v5.8M784.65,987.9v-5.8M784.65,539.5v5.8M452.05,959.88h6M788.5,959.88h-6M452.05,931.85h6M788.5,931.85h-6M452.05,903.82h6M788.5,903.82h-6M452.05,875.80h11M788.5,875.80h-11M452.05,847.77h6M788.5,847.77h-6M452.05,819.75h6M788.5,819.75h-6M452.05,791.73h6M788.5,791.73h-6M452.05,763.70h11M788.5,763.70h-11M452.05,735.67h6M788.5,735.67h-6M452.05,707.65h6M788.5,707.65h-6M452.05,679.62h6M788.5,679.62h-6M452.05,651.60h11M788.5,651.60h-11M452.05,623.58h6M788.5,623.58h-6M452.05,595.55h6M788.5,595.55h-6M452.05,567.52h6M788.5,567.52h-6" stroke="#000" stroke-width="1.3" fill="none"/>
<rect x="452.05" y="539.5" width="336.45" height="448.4" fill="none" stroke="#000" stroke-width="1.55"/>
<g clip-path="url(#cR)">
<circle cx="522.1" cy="986.3" r="1.75" fill="#0a9a0a"/><circle cx="524.8" cy="978.9" r="1.75" fill="#0a9a0a"/><circle cx="527.6" cy="971.4" r="1.75" fill="#0a9a0a"/><circle cx="530.3" cy="964.0" r="1.75" fill="#0a9a0a"/><circle cx="533.1" cy="956.5" r="1.75" fill="#0a9a0a"/><circle cx="536.0" cy="949.1" r="1.75" fill="#0a9a0a"/><circle cx="538.8" cy="941.7" r="1.75" fill="#0a9a0a"/><circle cx="541.8" cy="934.3" r="1.75" fill="#0a9a0a"/><circle cx="544.8" cy="926.9" r="1.75" fill="#0a9a0a"/><circle cx="547.9" cy="919.6" r="1.75" fill="#0a9a0a"/><circle cx="551.0" cy="912.3" r="1.75" fill="#0a9a0a"/><circle cx="554.3" cy="905.1" r="1.75" fill="#0a9a0a"/><circle cx="557.6" cy="897.8" r="1.75" fill="#0a9a0a"/><circle cx="561.0" cy="890.7" r="1.75" fill="#0a9a0a"/><circle cx="564.5" cy="883.5" r="1.75" fill="#0a9a0a"/><circle cx="568.1" cy="876.5" r="1.75" fill="#0a9a0a"/><circle cx="571.9" cy="869.4" r="1.75" fill="#0a9a0a"/><circle cx="575.7" cy="862.5" r="1.75" fill="#0a9a0a"/><circle cx="579.7" cy="855.6" r="1.75" fill="#0a9a0a"/><circle cx="583.8" cy="848.8" r="1.75" fill="#0a9a0a"/><circle cx="588.1" cy="842.1" r="1.75" fill="#0a9a0a"/><circle cx="592.5" cy="835.5" r="1.75" fill="#0a9a0a"/><circle cx="597.0" cy="828.9" r="1.75" fill="#0a9a0a"/><circle cx="601.7" cy="822.5" r="1.75" fill="#0a9a0a"/><circle cx="606.5" cy="816.2" r="1.75" fill="#0a9a0a"/><circle cx="611.5" cy="810.0" r="1.75" fill="#0a9a0a"/><circle cx="616.7" cy="804.0" r="1.75" fill="#0a9a0a"/><circle cx="622.0" cy="798.1" r="1.75" fill="#0a9a0a"/><circle cx="627.5" cy="792.4" r="1.75" fill="#0a9a0a"/><circle cx="633.2" cy="786.8" r="1.75" fill="#0a9a0a"/><circle cx="639.0" cy="781.4" r="1.75" fill="#0a9a0a"/><circle cx="645.0" cy="776.2" r="1.75" fill="#0a9a0a"/><circle cx="651.2" cy="771.2" r="1.75" fill="#0a9a0a"/><circle cx="657.5" cy="766.3" r="1.75" fill="#0a9a0a"/><circle cx="664.0" cy="761.7" r="1.75" fill="#0a9a0a"/><circle cx="669.7" cy="756.8" r="1.75" fill="#0a9a0a"/><circle cx="676.9" cy="753.2" r="1.75" fill="#0a9a0a"/><circle cx="684.1" cy="749.8" r="1.75" fill="#0a9a0a"/><circle cx="691.5" cy="746.6" r="1.75" fill="#0a9a0a"/><circle cx="699.0" cy="743.8" r="1.75" fill="#0a9a0a"/><circle cx="706.6" cy="741.3" r="1.75" fill="#0a9a0a"/><circle cx="714.3" cy="739.3" r="1.75" fill="#0a9a0a"/><circle cx="722.1" cy="737.7" r="1.75" fill="#0a9a0a"/><circle cx="730.0" cy="736.5" r="1.75" fill="#0a9a0a"/><circle cx="737.9" cy="735.2" r="1.75" fill="#0a9a0a"/><circle cx="745.7" cy="733.4" r="1.75" fill="#0a9a0a"/><circle cx="753.3" cy="730.8" r="1.75" fill="#0a9a0a"/><circle cx="760.2" cy="726.9" r="1.75" fill="#0a9a0a"/><circle cx="765.8" cy="721.2" r="1.75" fill="#0a9a0a"/><circle cx="769.8" cy="714.3" r="1.75" fill="#0a9a0a"/><circle cx="772.5" cy="706.8" r="1.75" fill="#0a9a0a"/><circle cx="774.4" cy="699.0" r="1.75" fill="#0a9a0a"/><circle cx="775.9" cy="691.1" r="1.75" fill="#0a9a0a"/><circle cx="777.0" cy="683.2" r="1.75" fill="#0a9a0a"/><circle cx="778.0" cy="675.3" r="1.75" fill="#0a9a0a"/><circle cx="778.7" cy="667.3" r="1.75" fill="#0a9a0a"/><circle cx="779.3" cy="659.3" r="1.75" fill="#0a9a0a"/><circle cx="779.7" cy="651.3" r="1.75" fill="#0a9a0a"/><circle cx="780.0" cy="643.3" r="1.75" fill="#0a9a0a"/><circle cx="780.3" cy="635.3" r="1.75" fill="#0a9a0a"/><circle cx="780.5" cy="627.3" r="1.75" fill="#0a9a0a"/><circle cx="780.7" cy="619.3" r="1.75" fill="#0a9a0a"/><circle cx="780.9" cy="611.4" r="1.75" fill="#0a9a0a"/><circle cx="781.1" cy="603.4" r="1.75" fill="#0a9a0a"/><circle cx="781.5" cy="595.4" r="1.75" fill="#0a9a0a"/><circle cx="781.8" cy="587.4" r="1.75" fill="#0a9a0a"/><circle cx="782.2" cy="579.4" r="1.75" fill="#0a9a0a"/><circle cx="782.6" cy="571.4" r="1.75" fill="#0a9a0a"/><circle cx="783.0" cy="563.4" r="1.75" fill="#0a9a0a"/><circle cx="783.4" cy="555.4" r="1.75" fill="#0a9a0a"/><circle cx="783.7" cy="547.4" r="1.75" fill="#0a9a0a"/><circle cx="783.9" cy="539.4" r="1.75" fill="#0a9a0a"/><circle cx="784.1" cy="531.4" r="1.75" fill="#0a9a0a"/><circle cx="784.1" cy="523.4" r="1.75" fill="#0a9a0a"/>
<path d="M452.5,538.0 L452.7,539.1 L452.9,540.1 L453.1,541.2 L453.3,542.3 L453.5,543.4 L453.7,544.4 L453.9,545.5 L454.1,546.6 L454.3,547.6 L454.6,548.7 L454.8,549.8 L455.0,550.8 L455.2,551.9 L455.4,553.0 L455.6,554.0 L455.8,555.1 L456.0,556.2 L456.2,557.3 L456.4,558.3 L456.7,559.4 L456.9,560.5 L457.1,561.5 L457.3,562.6 L457.5,563.7 L457.7,564.7 L458.0,565.8 L458.2,566.9 L458.4,567.9 L458.6,569.0 L458.8,570.1 L459.1,571.1 L459.3,572.2 L459.5,573.3 L459.7,574.3 L460.0,575.4 L460.2,576.4 L460.4,577.5 L460.7,578.6 L460.9,579.6 L461.1,580.7 L461.4,581.8 L461.6,582.8 L461.8,583.9 L462.1,585.0 L462.3,586.0 L462.5,587.1 L462.8,588.1 L463.0,589.2 L463.3,590.3 L463.5,591.3 L463.7,592.4 L464.0,593.5 L464.2,594.5 L464.5,595.6 L464.7,596.6 L465.0,597.7 L465.2,598.8 L465.5,599.8 L465.7,600.9 L466.0,601.9 L466.2,603.0 L466.5,604.0 L466.7,605.1 L467.0,606.2 L467.2,607.2 L467.5,608.3 L467.8,609.3 L468.0,610.4 L468.3,611.4 L468.6,612.5 L468.8,613.6 L469.1,614.6 L469.4,615.7 L469.6,616.7 L469.9,617.8 L470.2,618.8 L470.4,619.9 L470.7,620.9 L471.0,622.0 L471.3,623.0 L471.5,624.1 L471.8,625.1 L472.1,626.2 L472.4,627.2 L472.7,628.3 L472.9,629.3 L473.2,630.4 L473.5,631.4 L473.8,632.5 L474.1,633.5 L474.4,634.6 L474.7,635.6 L475.0,636.7 L475.3,637.7 L475.6,638.8 L475.9,639.8 L476.1,640.9 L476.4,641.9 L476.7,642.9 L477.1,644.0 L477.4,645.0 L477.7,646.1 L478.0,647.1 L478.3,648.2 L478.6,649.2 L478.9,650.2 L479.2,651.3 L479.5,652.3 L479.8,653.4 L480.2,654.4 L480.5,655.4 L480.8,656.5 L481.1,657.5 L481.4,658.6 L481.8,659.6 L482.1,660.6 L482.4,661.7 L482.7,662.7 L483.1,663.7 L483.4,664.8 L483.7,665.8 L484.1,666.8 L484.4,667.9 L484.7,668.9 L485.1,669.9 L485.4,671.0 L485.8,672.0 L486.1,673.0 L486.4,674.1 L486.8,675.1 L487.1,676.1 L487.5,677.2 L487.8,678.2 L488.2,679.2 L488.6,680.2 L488.9,681.3 L489.3,682.3 L489.6,683.3 L490.0,684.3 L490.4,685.4 L490.7,686.4 L491.1,687.4 L491.5,688.4 L491.8,689.5 L492.2,690.5 L492.6,691.5 L492.9,692.5 L493.3,693.6 L493.7,694.6 L494.1,695.6 L494.5,696.6 L494.8,697.6 L495.2,698.6 L495.6,699.7 L496.0,700.7 L496.4,701.7 L496.8,702.7 L497.2,703.7 L497.6,704.7 L498.0,705.7 L498.4,706.8 L498.8,707.8 L499.2,708.8 L499.6,709.8 L500.0,710.8 L500.4,711.8 L500.8,712.8 L501.2,713.8 L501.7,714.8 L502.1,715.8 L502.5,716.8 L502.9,717.8 L503.4,718.8 L503.8,719.8 L504.2,720.8 L504.7,721.8 L505.1,722.8 L505.6,723.8 L506.0,724.8 L506.5,725.8 L507.0,726.8 L507.4,727.8 L507.9,728.7 L508.4,729.7 L508.8,730.7 L509.3,731.7 L509.8,732.7 L510.3,733.6 L510.8,734.6 L511.3,735.6 L511.8,736.5 L512.3,737.5 L512.8,738.5 L513.3,739.4 L513.9,740.4 L514.4,741.3 L514.9,742.3 L515.5,743.2 L516.0,744.2 L516.6,745.1 L517.1,746.1 L517.7,747.0 L518.3,748.0 L518.9,748.9 L519.4,749.8 L520.0,750.8 L520.6,751.7 L521.2,752.6 L521.8,753.5 L522.4,754.4 L523.1,755.3 L523.7,756.3 L524.3,757.2 L525.0,758.1 L525.6,759.0 L526.3,759.9 L526.9,760.8 L527.6,761.6 L528.3,762.5 L529.0,763.4 L529.7,764.3 L530.4,765.1 L531.1,766.0 L531.8,766.8 L532.5,767.7 L533.2,768.5 L534.0,769.3 L534.7,770.1 L535.5,770.9 L536.2,771.7 L537.0,772.5 L537.8,773.2 L538.6,774.0 L539.4,774.7 L540.2,775.4 L541.0,776.1 L541.9,776.8 L542.7,777.5 L543.6,778.2 L544.4,778.8 L545.3,779.4 L546.2,780.0 L547.1,780.6 L548.0,781.2 L548.9,781.7 L549.8,782.2 L550.7,782.7 L551.7,783.2 L552.6,783.7 L553.6,784.1 L554.5,784.6 L555.5,785.0 L556.5,785.4 L557.5,785.7 L558.5,786.1 L559.5,786.4 L560.5,786.8 L561.5,787.1 L562.5,787.4 L563.5,787.6 L564.6,787.9 L565.6,788.1 L566.6,788.3 L567.7,788.5 L568.7,788.7 L569.8,788.9 L570.8,789.0 L571.9,789.1 L573.0,789.2 L574.0,789.3 L575.1,789.4 L576.2,789.5 L577.3,789.5 L578.3,789.6 L579.4,789.6 L580.5,789.6 L581.6,789.5 L582.6,789.5 L583.7,789.5 L584.8,789.4 L585.9,789.3 L586.9,789.2 L588.0,789.1 L589.1,789.0 L590.2,788.8 L591.2,788.7 L592.3,788.5 L593.4,788.3 L594.5,788.1 L595.5,787.9 L596.6,787.6 L597.6,787.4 L598.7,787.1 L599.8,786.9 L600.8,786.6 L601.9,786.3 L602.9,786.0 L604.0,785.7 L605.0,785.3 L606.1,785.0 L607.1,784.6 L608.1,784.3 L609.2,783.9 L610.2,783.5 L611.3,783.2 L612.3,782.8 L613.3,782.4 L614.4,781.9 L615.4,781.5 L616.4,781.1 L617.4,780.7 L618.5,780.2 L619.5,779.8 L620.5,779.3 L621.5,778.9 L622.5,778.4 L623.5,778.0 L624.6,777.5 L625.6,777.0 L626.6,776.6 L627.6,776.1 L628.6,775.6 L629.6,775.1 L630.6,774.6 L631.6,774.1 L632.6,773.7 L633.6,773.2 L634.6,772.7 L635.6,772.2 L636.6,771.7 L637.6,771.2 L638.6,770.7 L639.5,770.3 L640.5,769.8 L641.5,769.3 L642.5,768.8 L643.5,768.3 L644.5,767.9 L645.4,767.4 L646.4,766.9 L647.4,766.4 L648.4,766.0 L649.3,765.5 L650.3,765.0 L651.3,764.6 L652.3,764.1 L653.2,763.6 L654.2,763.2 L655.2,762.7 L656.2,762.2 L657.1,761.8 L658.1,761.3 L659.1,760.8 L660.1,760.4 L661.0,759.9 L662.0,759.5 L663.0,759.0 L663.9,758.6 L664.9,758.1 L665.9,757.7 L666.9,757.2 L667.8,756.8 L668.8,756.3 L669.8,755.9 L670.8,755.4 L671.8,755.0 L672.7,754.6 L673.7,754.1 L674.7,753.7 L675.7,753.3 L676.7,752.8 L677.6,752.4 L678.6,752.0 L679.6,751.5 L680.6,751.1 L681.6,750.7 L682.6,750.2 L683.6,749.8 L684.6,749.4 L685.6,749.0 L686.6,748.6 L687.6,748.2 L688.6,747.7 L689.6,747.3 L690.6,746.9 L691.6,746.5 L692.6,746.1 L693.7,745.7 L694.7,745.3 L695.7,744.9 L696.7,744.5 L697.7,744.1 L698.8,743.7 L699.8,743.3 L700.8,742.9 L701.9,742.5 L702.9,742.1 L704.0,741.7 L705.0,741.3" fill="none" stroke="#000" stroke-width="1.5" stroke-dasharray="7.8 8.1" stroke-dashoffset="1.0"/>
<path d="M452.5,538.0 L452.7,539.1 L452.9,540.1 L453.1,541.2 L453.3,542.3 L453.5,543.4 L453.7,544.4 L453.9,545.5 L454.1,546.6 L454.3,547.6 L454.6,548.7 L454.8,549.8 L455.0,550.8 L455.2,551.9 L455.4,553.0 L455.6,554.0 L455.8,555.1 L456.0,556.2 L456.2,557.3 L456.4,558.3 L456.7,559.4 L456.9,560.5 L457.1,561.5 L457.3,562.6 L457.5,563.7 L457.7,564.7 L458.0,565.8 L458.2,566.9 L458.4,567.9 L458.6,569.0 L458.8,570.1 L459.1,571.1 L459.3,572.2 L459.5,573.3 L459.7,574.3 L460.0,575.4 L460.2,576.4 L460.4,577.5 L460.7,578.6 L460.9,579.6 L461.1,580.7 L461.4,581.8 L461.6,582.8 L461.8,583.9 L462.1,585.0 L462.3,586.0 L462.5,587.1 L462.8,588.1 L463.0,589.2 L463.3,590.3 L463.5,591.3 L463.7,592.4 L464.0,593.5 L464.2,594.5 L464.5,595.6 L464.7,596.6 L465.0,597.7 L465.2,598.8 L465.5,599.8 L465.7,600.9 L466.0,601.9 L466.2,603.0 L466.5,604.0 L466.7,605.1 L467.0,606.2 L467.2,607.2 L467.5,608.3 L467.8,609.3 L468.0,610.4 L468.3,611.4 L468.6,612.5 L468.8,613.6 L469.1,614.6 L469.4,615.7 L469.6,616.7 L469.9,617.8 L470.2,618.8 L470.4,619.9 L470.7,620.9 L471.0,622.0 L471.3,623.0 L471.5,624.1 L471.8,625.1 L472.1,626.2 L472.4,627.2 L472.7,628.3 L472.9,629.3 L473.2,630.4 L473.5,631.4 L473.8,632.5 L474.1,633.5 L474.4,634.6 L474.7,635.6 L475.0,636.7 L475.3,637.7 L475.6,638.8 L475.9,639.8 L476.1,640.9 L476.4,641.9 L476.7,642.9 L477.1,644.0 L477.4,645.0 L477.7,646.1 L478.0,647.1 L478.3,648.2 L478.6,649.2 L478.9,650.2 L479.2,651.3 L479.5,652.3 L479.8,653.4 L480.2,654.4 L480.5,655.4 L480.8,656.5 L481.1,657.5 L481.4,658.6 L481.8,659.6 L482.1,660.6 L482.4,661.7 L482.7,662.7 L483.1,663.7 L483.4,664.8 L483.7,665.8 L484.1,666.8 L484.4,667.9 L484.7,668.9 L485.1,669.9 L485.4,671.0 L485.8,672.0 L486.1,673.0 L486.4,674.1 L486.8,675.1 L487.1,676.1 L487.5,677.2 L487.8,678.2 L488.2,679.2 L488.6,680.2 L488.9,681.3 L489.3,682.3 L489.6,683.3 L490.0,684.3 L490.4,685.4 L490.7,686.4 L491.1,687.4 L491.5,688.4 L491.8,689.5 L492.2,690.5 L492.6,691.5 L492.9,692.5 L493.3,693.6 L493.7,694.6 L494.1,695.6 L494.5,696.6 L494.8,697.6 L495.2,698.6 L495.6,699.7 L496.0,700.7 L496.4,701.7 L496.8,702.7 L497.2,703.7 L497.6,704.7 L498.0,705.7 L498.4,706.8 L498.8,707.8 L499.2,708.8 L499.6,709.8 L500.0,710.8 L500.4,711.8 L500.8,712.8 L501.2,713.8 L501.7,714.8 L502.1,715.8 L502.5,716.8 L502.9,717.8 L503.4,718.8 L503.8,719.8 L504.2,720.8 L504.7,721.8 L505.1,722.8 L505.6,723.8 L506.0,724.8 L506.5,725.8 L507.0,726.8 L507.4,727.8 L507.9,728.7 L508.4,729.7 L508.8,730.7 L509.3,731.7 L509.8,732.7 L510.3,733.6 L510.8,734.6 L511.3,735.6 L511.8,736.5 L512.3,737.5 L512.8,738.5 L513.3,739.4 L513.9,740.4 L514.4,741.3 L514.9,742.3 L515.5,743.2 L516.0,744.2 L516.6,745.1 L517.1,746.1 L517.7,747.0 L518.3,748.0 L518.9,748.9 L519.4,749.8 L520.0,750.8 L520.6,751.7 L521.2,752.6 L521.8,753.5 L522.4,754.4 L523.1,755.3 L523.7,756.3 L524.3,757.2 L525.0,758.1 L525.6,759.0 L526.3,759.9 L526.9,760.8 L527.6,761.6 L528.3,762.5 L529.0,763.4 L529.7,764.3 L530.4,765.1 L531.1,766.0 L531.8,766.8 L532.5,767.7 L533.2,768.5 L534.0,769.3 L534.7,770.1 L535.5,770.9 L536.2,771.7 L537.0,772.5 L537.8,773.2 L538.6,774.0 L539.4,774.7 L540.2,775.4 L541.0,776.1 L541.9,776.8 L542.7,777.5 L543.6,778.2 L544.4,778.8 L545.3,779.4 L546.2,780.0 L547.1,780.6 L548.0,781.2 L548.9,781.7 L549.8,782.2 L550.7,782.7 L551.7,783.2 L552.6,783.7 L553.6,784.1 L554.5,784.6 L555.5,785.0 L556.5,785.4 L557.5,785.7 L558.5,786.1 L559.5,786.4 L560.5,786.8 L561.5,787.1 L562.5,787.4 L563.5,787.6 L564.6,787.9 L565.6,788.1 L566.6,788.3 L567.7,788.5 L568.7,788.7 L569.8,788.9 L570.8,789.0 L571.9,789.1 L573.0,789.2 L574.0,789.3 L575.1,789.4 L576.2,789.5 L577.3,789.5 L578.3,789.6 L579.4,789.6 L580.5,789.6 L581.6,789.5 L582.6,789.5 L583.7,789.5 L584.8,789.4 L585.9,789.3 L586.9,789.2 L588.0,789.1 L589.1,789.0 L590.2,788.8 L591.2,788.7 L592.3,788.5 L593.4,788.3 L594.5,788.1 L595.5,787.9 L596.6,787.6 L597.6,787.4 L598.7,787.1 L599.8,786.9 L600.8,786.6 L601.9,786.3 L602.9,786.0 L604.0,785.7 L605.0,785.3 L606.1,785.0 L607.1,784.6 L608.1,784.3 L609.2,783.9 L610.2,783.5 L611.3,783.2 L612.3,782.8 L613.3,782.4 L614.4,781.9 L615.4,781.5 L616.4,781.1 L617.4,780.7 L618.5,780.2 L619.5,779.8 L620.5,779.3 L621.5,778.9 L622.5,778.4 L623.5,778.0 L624.6,777.5 L625.6,777.0 L626.6,776.6 L627.6,776.1 L628.6,775.6 L629.6,775.1 L630.6,774.6 L631.6,774.1 L632.6,773.7 L633.6,773.2 L634.6,772.7 L635.6,772.2 L636.6,771.7 L637.6,771.2 L638.6,770.7 L639.5,770.3 L640.5,769.8 L641.5,769.3 L642.5,768.8 L643.5,768.3 L644.5,767.9 L645.4,767.4 L646.4,766.9 L647.4,766.4 L648.4,766.0 L649.3,765.5 L650.3,765.0 L651.3,764.6 L652.3,764.1 L653.2,763.6 L654.2,763.2 L655.2,762.7 L656.2,762.2 L657.1,761.8 L658.1,761.3 L659.1,760.8 L660.1,760.4 L661.0,759.9 L662.0,759.5 L663.0,759.0 L663.9,758.6 L664.9,758.1 L665.9,757.7 L666.9,757.2 L667.8,756.8 L668.8,756.3 L669.8,755.9 L670.8,755.4 L671.8,755.0 L672.7,754.6 L673.7,754.1 L674.7,753.7 L675.7,753.3 L676.7,752.8 L677.6,752.4 L678.6,752.0 L679.6,751.5 L680.6,751.1 L681.6,750.7 L682.6,750.2 L683.6,749.8 L684.6,749.4 L685.6,749.0 L686.6,748.6 L687.6,748.2 L688.6,747.7 L689.6,747.3 L690.6,746.9 L691.6,746.5 L692.6,746.1 L693.7,745.7 L694.7,745.3 L695.7,744.9 L696.7,744.5 L697.7,744.1 L698.8,743.7 L699.8,743.3 L700.8,742.9 L701.9,742.5 L702.9,742.1 L704.0,741.7 L705.0,741.3" fill="none" stroke="#000" stroke-width="2.5" stroke-linecap="round" stroke-dasharray="0 15.9" stroke-dashoffset="-10.9"/>
<path d="M452.5,675.3 L453.1,675.7 L453.8,676.0 L454.4,676.4 L455.1,676.7 L455.7,677.1 L456.3,677.4 L457.0,677.8 L457.6,678.1 L458.3,678.5 L458.9,678.8 L459.5,679.2 L460.2,679.5 L460.8,679.9 L461.4,680.3 L462.1,680.6 L462.7,681.0 L463.3,681.3 L464.0,681.7 L464.6,682.1 L465.3,682.4 L465.9,682.8 L466.5,683.1 L467.2,683.5 L467.8,683.9 L468.4,684.2 L469.1,684.6 L469.7,685.0 L470.3,685.4 L471.0,685.7 L471.6,686.1 L472.2,686.5 L472.9,686.8 L473.5,687.2 L474.1,687.6 L474.8,688.0 L475.4,688.3 L476.0,688.7 L476.7,689.1 L477.3,689.5 L478.0,689.8 L478.6,690.2 L479.2,690.6 L479.9,691.0 L480.5,691.4 L481.1,691.7 L481.8,692.1 L482.4,692.5 L483.0,692.9 L483.7,693.3 L484.3,693.6 L484.9,694.0 L485.6,694.4 L486.2,694.8 L486.8,695.2 L487.5,695.6 L488.1,695.9 L488.7,696.3 L489.4,696.7 L490.0,697.1 L490.6,697.5 L491.3,697.9 L491.9,698.3 L492.5,698.7 L493.2,699.0 L493.8,699.4 L494.4,699.8 L495.1,700.2 L495.7,700.6 L496.3,701.0 L497.0,701.4 L497.6,701.8 L498.2,702.2 L498.9,702.5 L499.5,702.9 L500.2,703.3 L500.8,703.7 L501.4,704.1 L502.1,704.5 L502.7,704.9 L503.3,705.3 L504.0,705.7 L504.6,706.1 L505.2,706.5 L505.9,706.9 L506.5,707.2 L507.2,707.6 L507.8,708.0 L508.4,708.4 L509.1,708.8 L509.7,709.2 L510.3,709.6 L511.0,710.0 L511.6,710.4 L512.3,710.8 L512.9,711.2 L513.5,711.6 L514.2,711.9 L514.8,712.3 L515.5,712.7 L516.1,713.1 L516.7,713.5 L517.4,713.9 L518.0,714.3 L518.7,714.7 L519.3,715.1 L519.9,715.5 L520.6,715.9 L521.2,716.2 L521.9,716.6 L522.5,717.0 L523.2,717.4 L523.8,717.8 L524.5,718.2 L525.1,718.6 L525.7,719.0 L526.4,719.4 L527.0,719.7 L527.7,720.1 L528.3,720.5 L529.0,720.9 L529.6,721.3 L530.3,721.7 L530.9,722.1 L531.6,722.5 L532.2,722.8 L532.9,723.2 L533.5,723.6 L534.2,724.0 L534.8,724.4 L535.5,724.8 L536.1,725.1 L536.8,725.5 L537.4,725.9 L538.1,726.3 L538.7,726.7 L539.4,727.0 L540.0,727.4 L540.7,727.8 L541.3,728.2 L542.0,728.6 L542.6,728.9 L543.3,729.3 L544.0,729.7 L544.6,730.1 L545.3,730.4 L545.9,730.8 L546.6,731.2 L547.2,731.5 L547.9,731.9 L548.6,732.3 L549.2,732.6 L549.9,733.0 L550.5,733.4 L551.2,733.7 L551.9,734.1 L552.5,734.5 L553.2,734.8 L553.9,735.2 L554.5,735.5 L555.2,735.9 L555.9,736.2 L556.5,736.6 L557.2,736.9 L557.9,737.3 L558.5,737.6 L559.2,738.0 L559.9,738.3 L560.5,738.7 L561.2,739.0 L561.9,739.3 L562.5,739.7 L563.2,740.0 L563.9,740.3 L564.6,740.6 L565.2,741.0 L565.9,741.3 L566.6,741.6 L567.3,741.9 L567.9,742.2 L568.6,742.6 L569.3,742.9 L570.0,743.2 L570.7,743.5 L571.3,743.8 L572.0,744.1 L572.7,744.4 L573.4,744.7 L574.1,744.9 L574.7,745.2 L575.4,745.5 L576.1,745.8 L576.8,746.1 L577.5,746.3 L578.2,746.6 L578.9,746.9 L579.6,747.1 L580.2,747.4 L580.9,747.7 L581.6,747.9 L582.3,748.2 L583.0,748.4 L583.7,748.6 L584.4,748.9 L585.1,749.1 L585.8,749.3 L586.5,749.6 L587.2,749.8 L587.9,750.0 L588.6,750.2 L589.3,750.4 L590.0,750.6 L590.7,750.8 L591.4,751.0 L592.1,751.2 L592.8,751.4 L593.5,751.6 L594.2,751.8 L594.9,752.0 L595.6,752.1 L596.3,752.3 L597.0,752.5 L597.7,752.6 L598.5,752.8 L599.2,752.9 L599.9,753.1 L600.6,753.2 L601.3,753.3 L602.0,753.5 L602.7,753.6 L603.5,753.7 L604.2,753.8 L604.9,753.9 L605.6,754.0 L606.3,754.1 L607.1,754.2 L607.8,754.3 L608.5,754.4 L609.2,754.5 L609.9,754.6 L610.7,754.6 L611.4,754.7 L612.1,754.8 L612.8,754.8 L613.6,754.9 L614.3,754.9 L615.0,755.0 L615.8,755.0 L616.5,755.0 L617.2,755.1 L618.0,755.1 L618.7,755.1 L619.4,755.2 L620.2,755.2 L620.9,755.2 L621.6,755.2 L622.4,755.2 L623.1,755.2 L623.8,755.2 L624.6,755.2 L625.3,755.2 L626.0,755.2 L626.8,755.1 L627.5,755.1 L628.2,755.1 L629.0,755.1 L629.7,755.0 L630.5,755.0 L631.2,755.0 L631.9,754.9 L632.7,754.9 L633.4,754.8 L634.2,754.8 L634.9,754.7 L635.6,754.6 L636.4,754.6 L637.1,754.5 L637.9,754.4 L638.6,754.4 L639.4,754.3 L640.1,754.2 L640.8,754.1 L641.6,754.0 L642.3,754.0 L643.1,753.9 L643.8,753.8 L644.6,753.7 L645.3,753.6 L646.0,753.5 L646.8,753.4 L647.5,753.3 L648.3,753.1 L649.0,753.0 L649.8,752.9 L650.5,752.8 L651.2,752.7 L652.0,752.5 L652.7,752.4 L653.5,752.3 L654.2,752.1 L654.9,752.0 L655.7,751.9 L656.4,751.7 L657.2,751.6 L657.9,751.4 L658.7,751.3 L659.4,751.1 L660.1,751.0 L660.9,750.8 L661.6,750.7 L662.4,750.5 L663.1,750.4 L663.8,750.2 L664.6,750.0 L665.3,749.9 L666.1,749.7 L666.8,749.5 L667.5,749.4 L668.3,749.2 L669.0,749.0 L669.7,748.8 L670.5,748.7 L671.2,748.5 L672.0,748.3 L672.7,748.1 L673.4,747.9 L674.2,747.7 L674.9,747.5 L675.6,747.3 L676.4,747.2 L677.1,747.0 L677.8,746.8 L678.5,746.6 L679.3,746.4 L680.0,746.2 L680.7,746.0 L681.5,745.8 L682.2,745.6 L682.9,745.4 L683.7,745.2 L684.4,745.0 L685.1,744.8 L685.8,744.6 L686.6,744.4 L687.3,744.2 L688.0,744.0 L688.8,743.8 L689.5,743.6 L690.2,743.4 L690.9,743.2 L691.7,743.0 L692.4,742.8 L693.1,742.6 L693.8,742.5 L694.5,742.3 L695.3,742.1 L696.0,741.9 L696.7,741.7 L697.4,741.5 L698.2,741.3 L698.9,741.1 L699.6,741.0 L700.3,740.8 L701.0,740.6 L701.8,740.4 L702.5,740.2 L703.2,740.1 L703.9,739.9 L704.6,739.7 L705.4,739.6 L706.1,739.4 L706.8,739.2 L707.5,739.1 L708.2,738.9 L708.9,738.8 L709.7,738.6 L710.4,738.5 L711.1,738.3 L711.8,738.2 L712.5,738.0 L713.2,737.9 L714.0,737.8 L714.7,737.6 L715.4,737.5 L716.1,737.4 L716.8,737.3 L717.5,737.1 L718.2,737.0 L719.0,736.9 L719.7,736.8 L720.4,736.7 L721.1,736.6 L721.8,736.5 L722.5,736.4 L723.2,736.3 L723.9,736.3 L724.7,736.2 L725.4,736.1 L726.1,736.1 L726.8,736.0" fill="none" stroke="#0000ff" stroke-width="2" stroke-dasharray="8.5 7.3" stroke-dashoffset="0"/>
<circle cx="455.5" cy="974.4" r="1.25" fill="#000"/><circle cx="462.2" cy="963.6" r="1.25" fill="#000"/><circle cx="468.9" cy="952.8" r="1.25" fill="#000"/><circle cx="475.8" cy="942.1" r="1.25" fill="#000"/><circle cx="482.8" cy="931.5" r="1.25" fill="#000"/><circle cx="489.9" cy="920.9" r="1.25" fill="#000"/><circle cx="497.2" cy="910.5" r="1.25" fill="#000"/><circle cx="504.6" cy="900.2" r="1.25" fill="#000"/><circle cx="512.1" cy="889.9" r="1.25" fill="#000"/><circle cx="519.8" cy="879.8" r="1.25" fill="#000"/><circle cx="527.7" cy="869.8" r="1.25" fill="#000"/><circle cx="535.7" cy="860.0" r="1.25" fill="#000"/><circle cx="544.0" cy="850.3" r="1.25" fill="#000"/><circle cx="552.4" cy="840.8" r="1.25" fill="#000"/><circle cx="561.0" cy="831.4" r="1.25" fill="#000"/><circle cx="569.8" cy="822.2" r="1.25" fill="#000"/><circle cx="578.8" cy="813.3" r="1.25" fill="#000"/><circle cx="588.0" cy="804.5" r="1.25" fill="#000"/><circle cx="597.5" cy="796.0" r="1.25" fill="#000"/><circle cx="607.2" cy="787.8" r="1.25" fill="#000"/><circle cx="617.2" cy="780.0" r="1.25" fill="#000"/><circle cx="627.5" cy="772.6" r="1.25" fill="#000"/><circle cx="638.2" cy="765.6" r="1.25" fill="#000"/><circle cx="649.1" cy="759.2" r="1.25" fill="#000"/><circle cx="660.4" cy="753.4" r="1.25" fill="#000"/><circle cx="672.0" cy="748.2" r="1.25" fill="#000"/><circle cx="683.9" cy="743.7" r="1.25" fill="#000"/><circle cx="696.1" cy="740.0" r="1.25" fill="#000"/><circle cx="708.5" cy="737.2" r="1.25" fill="#000"/><circle cx="721.0" cy="735.2" r="1.25" fill="#000"/><circle cx="733.7" cy="734.1" r="1.25" fill="#000"/><circle cx="745.8" cy="733.4" r="0.95" fill="#000"/><circle cx="757.3" cy="728.8" r="0.95" fill="#000"/><circle cx="766.4" cy="720.4" r="0.95" fill="#000"/><circle cx="771.8" cy="709.1" r="0.95" fill="#000"/><circle cx="774.8" cy="697.0" r="0.95" fill="#000"/><circle cx="776.8" cy="684.7" r="0.95" fill="#000"/><circle cx="778.3" cy="672.3" r="0.95" fill="#000"/><circle cx="779.2" cy="659.8" r="0.95" fill="#000"/><circle cx="779.9" cy="647.3" r="0.95" fill="#000"/><circle cx="780.3" cy="634.8" r="0.95" fill="#000"/><circle cx="780.6" cy="622.3" r="0.95" fill="#000"/><circle cx="780.9" cy="609.8" r="0.95" fill="#000"/><circle cx="781.4" cy="597.3" r="0.95" fill="#000"/><circle cx="781.9" cy="584.8" r="0.95" fill="#000"/><circle cx="782.6" cy="572.4" r="0.95" fill="#000"/><circle cx="783.2" cy="559.9" r="0.95" fill="#000"/><circle cx="783.7" cy="547.4" r="0.95" fill="#000"/><circle cx="784.0" cy="534.9" r="0.95" fill="#000"/><circle cx="784.1" cy="522.4" r="0.95" fill="#000"/>
<path d="M452.3,772.5 L453.7,772.5 L455.0,772.4 L456.4,772.4 L457.8,772.4 L459.2,772.4 L460.6,772.4 L461.9,772.4 L463.3,772.4 L464.6,772.5 L466.0,772.5 L467.3,772.6 L468.7,772.7 L470.0,772.8 L471.3,772.9 L472.7,773.0 L474.0,773.1 L475.3,773.2 L476.7,773.4 L478.0,773.5 L479.3,773.7 L480.6,773.9 L481.9,774.0 L483.2,774.2 L484.5,774.4 L485.8,774.6 L487.1,774.8 L488.4,775.0 L489.7,775.3 L491.0,775.5 L492.3,775.7 L493.6,776.0 L494.9,776.2 L496.2,776.5 L497.5,776.7 L498.8,777.0 L500.0,777.2 L501.3,777.5 L502.6,777.8 L503.9,778.1 L505.2,778.3 L506.5,778.6 L507.8,778.9 L509.0,779.2 L510.3,779.5 L511.6,779.8 L512.9,780.0 L514.2,780.3 L515.5,780.6 L516.8,780.9 L518.0,781.2 L519.3,781.5 L520.6,781.8 L521.9,782.1 L523.2,782.4 L524.5,782.7 L525.8,782.9 L527.1,783.2 L528.4,783.5 L529.7,783.8 L531.0,784.1 L532.3,784.3 L533.7,784.6 L535.0,784.9 L536.3,785.1 L537.6,785.4 L538.9,785.6 L540.3,785.9 L541.6,786.1 L542.9,786.4 L544.3,786.6 L545.6,786.8 L547.0,787.0 L548.3,787.2 L549.7,787.4 L551.0,787.6 L552.4,787.8 L553.7,788.0 L555.1,788.2 L556.4,788.3 L557.8,788.5 L559.2,788.6 L560.5,788.8 L561.9,788.9 L563.2,789.0 L564.6,789.1 L565.9,789.2 L567.3,789.3 L568.7,789.4 L570.0,789.5 L571.4,789.5 L572.7,789.5 L574.1,789.6 L575.4,789.6 L576.8,789.6 L578.1,789.6 L579.5,789.5 L580.8,789.5 L582.1,789.4 L583.5,789.4 L584.8,789.3 L586.1,789.2 L587.5,789.1 L588.8,789.0 L590.1,788.8 L591.4,788.6 L592.7,788.5 L594.0,788.3 L595.3,788.1 L596.6,787.8 L597.9,787.6 L599.2,787.3 L600.5,787.1 L601.8,786.8 L603.0,786.5 L604.3,786.1 L605.6,785.8 L606.8,785.5 L608.1,785.1 L609.3,784.7 L610.6,784.4 L611.9,784.0 L613.1,783.6 L614.3,783.1 L615.6,782.7 L616.8,782.3 L618.1,781.8 L619.3,781.3 L620.5,780.9 L621.7,780.4 L623.0,779.9 L624.2,779.4 L625.4,778.9 L626.6,778.4 L627.8,777.8 L629.0,777.3 L630.3,776.8 L631.5,776.2 L632.7,775.7 L633.9,775.1 L635.1,774.5 L636.3,774.0 L637.5,773.4 L638.7,772.8 L639.9,772.2 L641.1,771.6 L642.3,771.0 L643.5,770.4 L644.7,769.8 L645.9,769.2 L647.1,768.6 L648.3,767.9 L649.5,767.3 L650.7,766.7 L651.9,766.1 L653.1,765.5 L654.2,764.8 L655.4,764.2 L656.6,763.6 L657.8,762.9 L659.0,762.3 L660.2,761.7 L661.4,761.1 L662.6,760.4 L663.8,759.8 L665.0,759.2 L666.2,758.6 L667.4,757.9 L668.6,757.3 L669.8,756.7 L671.0,756.1 L672.2,755.5 L673.4,754.9 L674.7,754.3 L675.9,753.7 L677.1,753.1 L678.3,752.5 L679.5,751.9 L680.7,751.4 L682.0,750.8 L683.2,750.2 L684.4,749.7 L685.6,749.1 L686.9,748.6 L688.1,748.0 L689.3,747.5 L690.6,747.0 L691.8,746.5 L693.1,746.0 L694.3,745.5 L695.6,745.0 L696.8,744.5 L698.1,744.1 L699.4,743.6 L700.6,743.2 L701.9,742.8 L703.2,742.3 L704.4,741.9 L705.7,741.5 L707.0,741.2 L708.3,740.8 L709.6,740.4 L710.9,740.1 L712.2,739.8 L713.5,739.4 L714.8,739.1 L716.1,738.9 L717.5,738.6 L718.8,738.3 L720.1,738.1 L721.5,737.8 L722.8,737.6 L724.1,737.4 L725.5,737.2 L726.8,737.0 L728.2,736.8 L729.5,736.6 L730.9,736.4 L732.2,736.2 L733.5,735.9 L734.9,735.7 L736.2,735.5 L737.5,735.3 L738.8,735.0 L740.1,734.8 L741.4,734.5 L742.7,734.2 L744.0,733.9 L745.3,733.6 L746.6,733.2 L747.8,732.8 L749.1,732.4 L750.3,732.0 L751.6,731.6 L752.8,731.1 L753.9,730.6 L755.1,730.0 L756.2,729.4 L757.4,728.8 L758.4,728.2 L759.5,727.5 L760.5,726.7 L761.5,725.9 L762.4,725.1 L763.3,724.2 L764.1,723.3 L764.9,722.4 L765.7,721.4 L766.4,720.3 L767.1,719.3 L767.8,718.2 L768.4,717.0 L769.0,715.9 L769.6,714.7 L770.1,713.4 L770.6,712.2 L771.1,710.9 L771.6,709.7 L772.0,708.4 L772.4,707.1 L772.8,705.8 L773.2,704.4 L773.5,703.1 L773.8,701.8 L774.1,700.4 L774.4,699.1 L774.7,697.7 L775.0,696.4 L775.2,695.0 L775.4,693.7 L775.7,692.3 L775.9,690.9 L776.1,689.6 L776.3,688.2 L776.5,686.9 L776.7,685.5 L776.9,684.2 L777.1,682.8 L777.2,681.5 L777.4,680.1 L777.6,678.8 L777.7,677.4 L777.9,676.1 L778.0,674.7 L778.2,673.4 L778.3,672.0 L778.4,670.7 L778.5,669.3 L778.6,668.0 L778.8,666.7 L778.9,665.3 L779.0,664.0 L779.1,662.6 L779.1,661.3 L779.2,660.0 L779.3,658.6 L779.4,657.3 L779.5,655.9 L779.5,654.6 L779.6,653.3 L779.7,651.9 L779.7,650.6 L779.8,649.3 L779.9,647.9 L779.9,646.6 L780.0,645.3 L780.0,643.9 L780.1,642.6 L780.1,641.3 L780.1,639.9 L780.2,638.6 L780.2,637.3 L780.3,635.9 L780.3,634.6 L780.3,633.3 L780.4,631.9 L780.4,630.6 L780.4,629.3 L780.5,628.0 L780.5,626.6 L780.5,625.3 L780.6,624.0 L780.6,622.7 L780.6,621.3 L780.7,620.0 L780.7,618.7 L780.7,617.3 L780.8,616.0 L780.8,614.7 L780.8,613.4 L780.9,612.0 L780.9,610.7 L780.9,609.4 L781.0,608.1 L781.0,606.7 L781.1,605.4 L781.1,604.1 L781.2,602.8 L781.2,601.4 L781.3,600.1 L781.3,598.8 L781.4,597.5 L781.4,596.1 L781.5,594.8 L781.5,593.5 L781.6,592.1 L781.7,590.8 L781.7,589.5 L781.8,588.2 L781.8,586.8 L781.9,585.5 L782.0,584.2 L782.0,582.9 L782.1,581.5 L782.2,580.2 L782.2,578.9 L782.3,577.5 L782.4,576.2 L782.4,574.9 L782.5,573.6 L782.6,572.2 L782.6,570.9 L782.7,569.6 L782.8,568.2 L782.8,566.9 L782.9,565.6 L783.0,564.2 L783.0,562.9 L783.1,561.6 L783.1,560.2 L783.2,558.9 L783.3,557.6 L783.3,556.2 L783.4,554.9 L783.4,553.6 L783.5,552.2 L783.5,550.9 L783.6,549.5 L783.6,548.2 L783.7,546.9 L783.7,545.5 L783.8,544.2 L783.8,542.8 L783.9,541.5 L783.9,540.1 L783.9,538.8 L784.0,537.5 L784.0,536.1 L784.0,534.8 L784.0,533.4 L784.1,532.1 L784.1,530.7 L784.1,529.4 L784.1,528.0 L784.1,526.7 L784.1,525.3 L784.1,524.0 L784.1,522.6 L784.1,521.2 L784.1,519.9" fill="none" stroke="#ff0000" stroke-width="1.9"/>
</g>
<text x="442.85" y="994.4" font-size="19.5" text-anchor="end">-0.8</text>
<text x="442.85" y="882.3" font-size="19.5" text-anchor="end">-0.4</text>
<text x="442.85" y="770.2" font-size="19.5" text-anchor="end">0</text>
<text x="442.85" y="658.1" font-size="19.5" text-anchor="end">0.4</text>
<text x="442.85" y="546.0" font-size="19.5" text-anchor="end">0.8</text>
<text x="436.2" y="1024.4" font-size="19.5">10</text><text x="460.4" y="1011.7" font-size="15.5">-4</text>
<text x="520.3" y="1024.4" font-size="19.5">10</text><text x="544.5" y="1011.7" font-size="15.5">-3</text>
<text x="604.4" y="1024.4" font-size="19.5">10</text><text x="628.6" y="1011.7" font-size="15.5">-2</text>
<text x="688.5" y="1024.4" font-size="19.5">10</text><text x="712.7" y="1011.7" font-size="15.5">-1</text>
<text x="783.7" y="1024.4" font-size="19.5">1</text>
<text x="258.6" y="1037.7" font-size="27.5">x</text>
<text x="654.6" y="1037.7" font-size="27.5">x</text>
<text x="224.8" y="617.2" font-size="27.2">xP</text>
<text x="255.5" y="601.8" font-size="19">T</text>
<text x="253.4" y="621" font-size="19.5">gq</text>
<text x="275.9" y="617.2" font-size="27.2" letter-spacing="0.7">(x)</text>
<text x="620.8" y="617.2" font-size="27.2">xP</text>
<text x="651.6" y="601.8" font-size="19">T</text>
<text x="649.0" y="621" font-size="19.5">gg</text>
<text x="671.1" y="617.2" font-size="27.2" letter-spacing="0.7">(x)</text>
<circle cx="225.0" cy="847.8" r="1.25" fill="#000"/><circle cx="238.2" cy="847.8" r="1.25" fill="#000"/><circle cx="251.4" cy="847.8" r="1.25" fill="#000"/><circle cx="264.6" cy="847.8" r="1.25" fill="#000"/>
<text x="279.3" y="854.6" font-size="21.5">NLO</text>
<path d="M223.6,884.3H263.2" stroke="#000" stroke-width="1.5" stroke-dasharray="8.2 8.2" fill="none"/>
<circle cx="235.9" cy="884.3" r="1.25" fill="#000"/><circle cx="252.3" cy="884.3" r="1.25" fill="#000"/>
<text x="279.3" y="891.4" font-size="21.5">NNLO</text>
<path transform="translate(1.0,0)" d="M212.2,943.2 C211.4,949 208.8,955.2 204.6,955.2 C201.6,955.2 200.4,952.4 200.4,949.4 C200.4,946 201.9,943.3 204.9,943.3 C208.4,943.3 209.5,949.5 210.4,953.3 C210.8,955 212.0,955.6 213.2,954.7" fill="none" stroke="#000" stroke-width="1.6" stroke-linecap="round"/><text x="214.3" y="963.3" font-size="16">S</text><text transform="translate(228.4,955.4) scale(1.17,1)" font-size="22">=</text><text x="248.3" y="955.4" font-size="22.5" letter-spacing="0.8">0.12,</text><text x="307.5" y="955.4" font-size="22">N</text><text x="324.4" y="963.3" font-size="16">f</text><text transform="translate(335.4,955.4) scale(1.17,1)" font-size="22">=</text><text x="354.8" y="955.4" font-size="22">5</text>
<text x="645.6" y="830.2" font-size="21.5">NNLO</text>
<circle cx="622.8" cy="864.9" r="1.75" fill="#0a9a0a"/><circle cx="632.1" cy="864.9" r="1.75" fill="#0a9a0a"/><circle cx="641.4" cy="864.9" r="1.75" fill="#0a9a0a"/><circle cx="650.7" cy="864.9" r="1.75" fill="#0a9a0a"/><circle cx="660.0" cy="864.9" r="1.75" fill="#0a9a0a"/>
<text x="675.4" y="868.9" font-size="21.5">+ LL</text>
<path d="M619.8,898.1H660.2" stroke="#0000ff" stroke-width="2" stroke-dasharray="9 6.7" fill="none"/>
<text x="675.4" y="902.1" font-size="21.5">+ NLL</text>
<path d="M619.8,931.8H660.2" stroke="#ff0000" stroke-width="1.9" fill="none"/>
<text x="675.4" y="936.3" font-size="21.5">+ NNLL</text>
</svg></body></html>
